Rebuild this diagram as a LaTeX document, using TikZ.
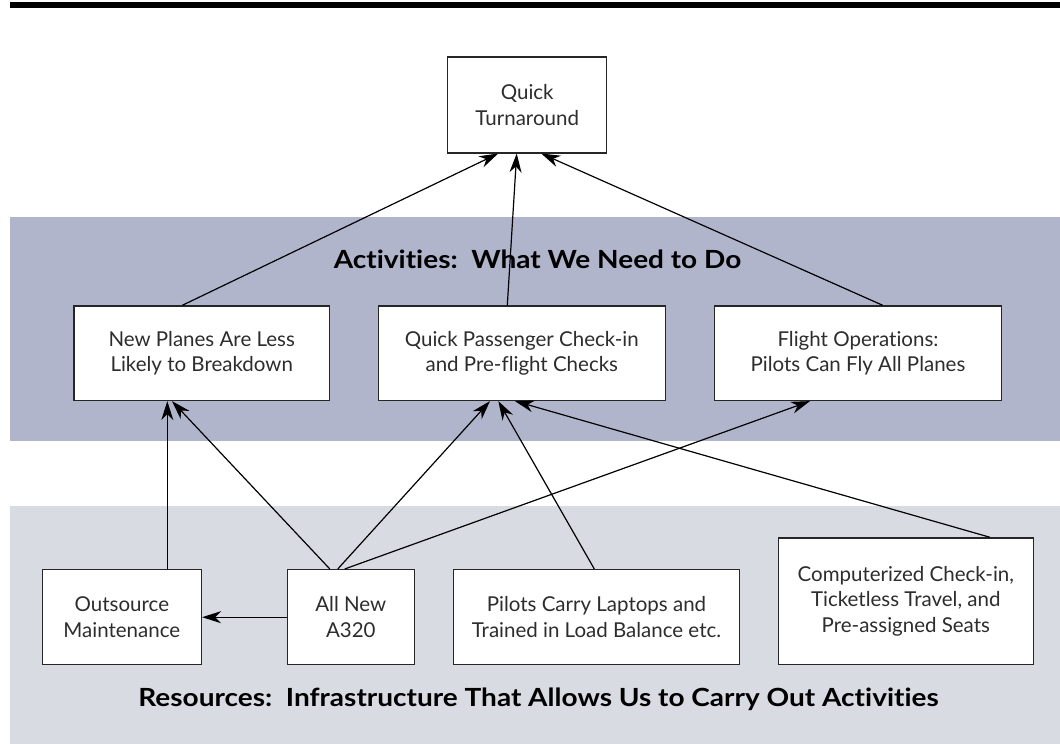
\documentclass[tikz,border=0pt]{standalone}
\usepackage{fontspec}
\setmainfont{Lato}[Ligatures=NoCommon]
\newfontfamily\titlefont[FakeStretch=1.12,Ligatures=NoCommon]{Lato}
\usetikzlibrary{arrows.meta}
\definecolor{actband}{RGB}{176,181,203}
\definecolor{resband}{RGB}{216,219,226}
\definecolor{boxtext}{RGB}{45,45,45}
\tikzset{
  box/.style={draw=black!85, line width=1.5pt, fill=white, align=center, inner sep=0pt,
    text=boxtext, font=\fontsize{20.5}{25.5}\selectfont},
  conn/.style={line width=1.2pt, -{Stealth[length=19pt,width=12pt,inset=6pt]}},
  title/.style={font=\titlefont\fontsize{25}{30}\selectfont\bfseries, anchor=base, inner sep=0pt}
}
\begin{document}
\begin{tikzpicture}[x=1pt,y=-1pt]
\useasboundingbox (0,0) rectangle (1060,744);
% top bar
\fill[black] (10,2) rectangle (1060,8);
% bands
\fill[actband] (10,217.3) rectangle (1060,440.7);
\fill[resband] (10,505.7) rectangle (1060,744);
% titles
\node[title] (acttitle) at (537.5,268) {Activities:\ \ What We Need to Do};
\node[title] (restitle) at (538.5,706.7) {Resources:\ \ Infrastructure That Allows Us to Carry Out Activities};
% boxes
\node[box, minimum width=159pt, minimum height=95.7pt] (qt) at (527.2,104.9) {Quick\\Turnaround};
\node[box, minimum width=255.3pt, minimum height=94.3pt] (np) at (201.7,353.2) {New Planes Are Less\\Likely to Breakdown};
\node[box, minimum width=287pt, minimum height=94.3pt] (qp) at (521.8,353.2) {Quick Passenger Check-in\\and Pre-flight Checks};
\node[box, minimum width=287.4pt, minimum height=94.3pt] (fo) at (858,353.2) {Flight Operations:\\Pilots Can Fly All Planes};
\node[box, minimum width=159pt, minimum height=95pt] (om) at (121.8,617.2) {Outsource\\Maintenance};
\node[box, minimum width=127pt, minimum height=95pt] (a320) at (350.8,617.2) {All New\\A320};
\node[box, minimum width=286.4pt, minimum height=95pt] (pc) at (596.5,617.2) {Pilots Carry Laptops and\\Trained in Load Balance etc.};
\node[box, minimum width=255pt, minimum height=126.3pt] (cc) at (905.8,601.2) {Computerized Check-in,\\Ticketless Travel, and\\Pre-assigned Seats};
% connectors
\draw[conn] ([xshift=-19.4pt]np.north) -- ([xshift=-29pt]qt.south);
\draw[conn] ([xshift=-14.5pt]qp.north) -- ([xshift=-10.5pt]qt.south);
\draw[conn] ([xshift=24.7pt]fo.north) -- ([xshift=14pt]qt.south);
\draw[conn] ([xshift=45.5pt]om.north) -- ([xshift=-34.4pt]np.south);
\draw[conn] ([xshift=-21pt]a320.north) -- ([xshift=-29.7pt]np.south);
\draw[conn] ([xshift=-13pt]a320.north) -- ([xshift=-31.8pt]qp.south);
\draw[conn] ([xshift=-6pt]a320.north) -- ([xshift=-48pt]fo.south);
\draw[conn] ([xshift=-2.2pt]pc.north) -- ([xshift=-23.5pt]qp.south);
\draw[conn] ([xshift=84.2pt]cc.north) -- ([xshift=-6.8pt]qp.south);
\draw[conn] (a320.west) -- (om.east);
\end{tikzpicture}
\end{document}
